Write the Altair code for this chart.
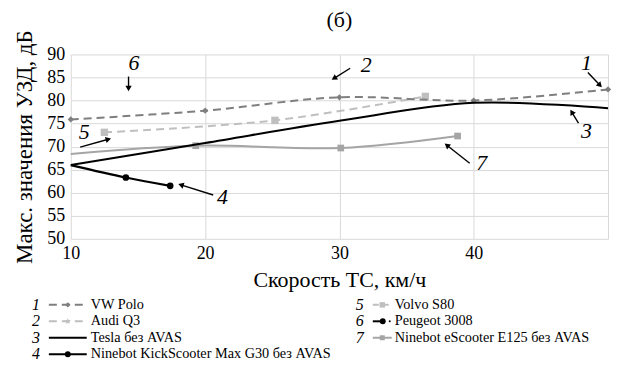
import math
import altair as alt
import pandas as pd

# ---------------- data ----------------
polo_speed = [10, 20, 30, 40, 50]
polo_db = [75.9, 77.8, 80.7, 80.0, 82.4]

tesla_speed = [10, 20, 30, 40, 50]
tesla_db = [66.0, 70.8, 75.6, 79.5, 78.3]

g30_speed = [10, 14.1, 17.4]
g30_db = [66.0, 63.3, 61.5]

volvo_speed = [12.5, 25.2, 36.4]
volvo_db = [73.1, 75.7, 80.9]

e125_speed = [10, 19.3, 30.1, 38.8]
e125_db = [68.4, 70.2, 69.7, 72.3]

x_ticks = [10, 20, 30, 40, 50]
y_ticks = [50, 55, 60, 65, 70, 75, 80, 85, 90]

# annotation numbers and arrows (data units)
ann_label = ["1", "2", "3", "4", "5", "6", "7"]
ann_lx = [48.4, 32.0, 48.4, 21.3, 11.0, 14.7, 40.6]
ann_ly = [88.2, 87.6, 73.4, 59.1, 73.1, 88.1, 66.4]
arr_x0 = [48.5, 30.8, 47.8, 20.6, 10.7, 14.3, 39.7]
arr_y0 = [86.1, 87.0, 75.1, 59.5, 69.9, 85.2, 66.4]
arr_x1 = [49.4, 29.6, 47.3, 18.2, 12.8, 14.3, 38.0]
arr_y1 = [83.3, 84.8, 77.5, 61.7, 71.6, 82.6, 70.3]

# legend
legend_num = ["1", "2", "3", "4", "5", "6", "7"]
legend_name = ["VW Polo", "Audi Q3", "Tesla без AVAS",
               "Ninebot KickScooter Max G30  без AVAS",
               "Volvo S80", "Peugeot 3008",
               "Ninebot eScooter E125 без AVAS"]
legend_col = [0, 0, 0, 0, 1, 1, 1]
legend_row = [0, 1, 2, 3, 0, 1, 2]

# ---------------- layout / style ----------------
FONT = "Liberation Serif"
W, H = 539, 185
X_MIN, X_MAX, Y_MIN, Y_MAX = 10, 50, 50, 90
DARK = "#7f7f7f"
LIGHT = "#bfbfbf"
MID = "#a5a5a5"
DASH = [8, 5]
STAR = ("M0,-1L0.235,-0.324L0.951,-0.309L0.38,0.124L0.588,0.809L0,0.4"
        "L-0.588,0.809L-0.38,0.124L-0.951,-0.309L-0.235,-0.324Z")

x_axis = alt.Axis(values=x_ticks, title="Скорость ТС, км/ч",
                  labelExpr="datum.value == 50 ? '' : datum.label",
                  labelOverlap=False, labelFlush=False,
                  grid=True, gridColor="#d9d9d9", domain=False, ticks=False,
                  labelFontSize=18, labelPadding=6, labelColor="black",
                  titleFontSize=22, titleFontWeight="normal", titleColor="black",
                  titlePadding=7, labelFont=FONT, titleFont=FONT)
y_axis = alt.Axis(values=y_ticks, title="Макс. значения УЗД, дБ",
                  labelOverlap=False, labelFlush=False,
                  grid=True, gridColor="#d9d9d9", domain=False, ticks=False,
                  labelFontSize=18, labelPadding=6, labelColor="black",
                  titleFontSize=23, titleFontWeight="normal", titleColor="black",
                  titlePadding=10, labelFont=FONT, titleFont=FONT)
xs = alt.Scale(domain=[X_MIN, X_MAX], nice=False, zero=False)
ys = alt.Scale(domain=[Y_MIN, Y_MAX], nice=False, zero=False)


def X(field):
    return alt.X(field, type="quantitative", scale=xs, axis=x_axis)


def Y(field):
    return alt.Y(field, type="quantitative", scale=ys, axis=y_axis)


def series(speed, db, color, width, dash=None, shape=None, msize=30, skip_first=False):
    df = pd.DataFrame({"speed": speed, "db": db})
    kw = dict(color=color, strokeWidth=width, interpolate="catmull-rom")
    if dash is not None:
        kw["strokeDash"] = dash
    layers = [alt.Chart(df).mark_line(**kw).encode(x=X("speed"), y=Y("db"))]
    if shape is not None:
        pts = alt.Chart(df).mark_point(shape=shape, filled=True, size=msize,
                                       color=color, opacity=1).encode(x=X("speed"), y=Y("db"))
        if skip_first:
            pts = pts.transform_filter(f"datum.speed > {X_MIN}")
        layers.append(pts)
    return layers


layers = []
layers += series(e125_speed, e125_db, MID, 2, shape="square", msize=45, skip_first=True)
layers += series(volvo_speed, volvo_db, LIGHT, 2, dash=DASH, shape="square", msize=55)
layers += series(polo_speed, polo_db, DARK, 2, dash=DASH, shape="diamond", msize=40)
layers += series(tesla_speed, tesla_db, "black", 2)
layers += series(g30_speed, g30_db, "black", 2.2, shape="circle", msize=45, skip_first=True)

# annotations
px_x = W / (X_MAX - X_MIN)
px_y = H / (Y_MAX - Y_MIN)
angles = []
for a, b, c, d in zip(arr_x0, arr_y0, arr_x1, arr_y1):
    dx = (c - a) * px_x
    dy = -(d - b) * px_y  # screen y (down)
    angles.append(math.degrees(math.atan2(dx, -dy)) % 360)

ann_df = pd.DataFrame({"label": ann_label, "lx": ann_lx, "ly": ann_ly})
arr_df = pd.DataFrame({"x0": arr_x0, "y0": arr_y0, "x1": arr_x1, "y1": arr_y1, "ang": angles})

layers.append(alt.Chart(arr_df).mark_rule(color="black", strokeWidth=1.4).encode(
    x=X("x0"), y=Y("y0"), x2="x1:Q", y2="y1:Q"))
layers.append(alt.Chart(arr_df).mark_point(shape="triangle-up", filled=True, size=40,
                                           color="black", opacity=1).encode(
    x=X("x1"), y=Y("y1"), angle=alt.Angle("ang:Q", scale=None)))
layers.append(alt.Chart(ann_df).mark_text(font=FONT, fontStyle="italic", fontSize=22,
                                          color="black").encode(
    x=X("lx"), y=Y("ly"), text="label:N"))

main = alt.layer(*layers).properties(
    width=W, height=H,
    title=alt.TitleParams("(б)", font=FONT, fontSize=22, fontWeight="normal",
                          color="black", anchor="middle", offset=-2))

# ---------------- legend panel ----------------
LEG_X0 = 72           # page x of legend panel origin (aligned with plot)
num_x = [37, 362]
sym_x0 = [50, 375]
sym_x1 = [88, 394]
txt_x = [92, 397]

leg_df = pd.DataFrame({"num": legend_num, "name": legend_name,
                       "col": legend_col, "row": legend_row})
leg_df["nx"] = [num_x[c] for c in legend_col]
leg_df["tx"] = [txt_x[c] for c in legend_col]

lxs = alt.Scale(domain=[LEG_X0, LEG_X0 + W], nice=False, zero=False)
lys = alt.Scale(domain=[-0.5, 3.5], reverse=True, nice=False, zero=False)

leg_styles = {
    "1": dict(color=DARK, dash=DASH, shape="diamond", size=30),
    "2": dict(color=LIGHT, dash=DASH, shape=STAR, size=45),
    "3": dict(color="black", dash=None, shape=None, size=0),
    "4": dict(color="black", dash=None, shape="circle", size=35),
    "5": dict(color=LIGHT, dash=[6, 4], shape="square", size=30),
    "6": dict(color="black", dash=None, shape="circle", size=35),
    "7": dict(color=MID, dash=None, shape="square", size=25),
}

leg_layers = []
for i, n in enumerate(legend_num):
    st = leg_styles[n]
    c = legend_col[i]
    x0, x1 = sym_x0[c], sym_x1[c]
    if n == "6":
        x1 = 385
    mid = (sym_x0[c] + sym_x1[c]) / 2 if n != "6" else 385
    seg = pd.DataFrame({"x": [x0], "x2": [x1], "row": [legend_row[i]], "m": [mid]})
    kw = dict(color=st["color"], strokeWidth=2)
    if st["dash"] is not None:
        kw["strokeDash"] = st["dash"]
    leg_layers.append(alt.Chart(seg).mark_rule(**kw).encode(
        x=alt.X("x:Q", scale=lxs, axis=None), x2="x2:Q",
        y=alt.Y("row:Q", scale=lys, axis=None)))
    if st["shape"] is not None:
        leg_layers.append(alt.Chart(seg).mark_point(shape=st["shape"], filled=True,
                                                    size=st["size"], color=st["color"],
                                                    opacity=1).encode(
            x=alt.X("m:Q", scale=lxs, axis=None),
            y=alt.Y("row:Q", scale=lys, axis=None)))
    if n == "6":
        dot = pd.DataFrame({"x": [392], "row": [legend_row[i]]})
        leg_layers.append(alt.Chart(dot).mark_point(shape="circle", filled=True, size=4,
                                                    color="black", opacity=1).encode(
            x=alt.X("x:Q", scale=lxs, axis=None),
            y=alt.Y("row:Q", scale=lys, axis=None)))

leg_layers.append(alt.Chart(leg_df).mark_text(font=FONT, fontStyle="italic", fontSize=16,
                                              color="black").encode(
    x=alt.X("nx:Q", scale=lxs, axis=None), y=alt.Y("row:Q", scale=lys, axis=None),
    text="num:N"))
leg_layers.append(alt.Chart(leg_df).mark_text(font=FONT, fontSize=14.3, align="left",
                                              color="black").encode(
    x=alt.X("tx:Q", scale=lxs, axis=None), y=alt.Y("row:Q", scale=lys, axis=None),
    text="name:N"))

legend = alt.layer(*leg_layers).properties(width=W, height=66)

chart = alt.vconcat(main, legend, spacing=6).properties(
    padding={"left": 5, "top": 0, "right": 5, "bottom": 0}
).configure(font=FONT).configure_view(stroke=None)

chart.save("out.html", embed_options={"renderer": "svg", "actions": False})
